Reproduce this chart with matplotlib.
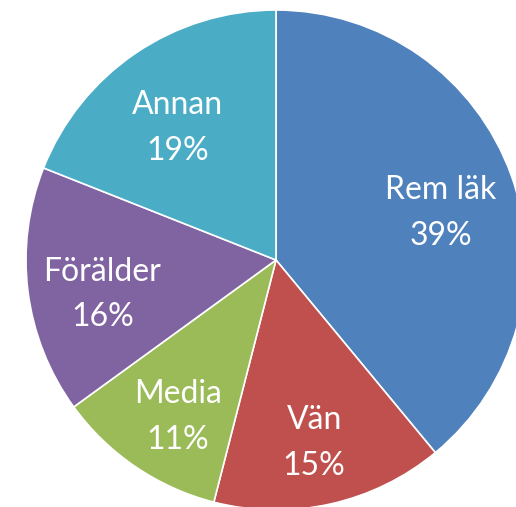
import matplotlib
matplotlib.use("Agg")
import matplotlib.pyplot as plt

# ---------------------------------------------------------------------------
# Data
# ---------------------------------------------------------------------------

CATEGORIES = ["Rem läk", "Vän", "Media", "Förälder", "Annan"]
SHARES     = [39, 15, 11, 16, 19]
COLORS     = ["#4F81BD", "#C0504D", "#9BBB59", "#8064A2", "#4BACC6"]

W, H = 516, 507
CX, CY, R = 276, 260, 250   # pie centre and radius in pixels (from top-left)

fig = plt.figure(figsize=(W / 100, H / 100), dpi=100)
ax = fig.add_axes([(CX - R) / W, (H - CY - R) / H, 2 * R / W, 2 * R / H])

labels = iter(CATEGORIES)


def fmt(pct):
    return f"{next(labels)}\n{pct:.0f}%"


wedges, texts, autotexts = ax.pie(
    SHARES,
    colors=COLORS,
    startangle=90,
    counterclock=False,
    radius=1.0,
    autopct=fmt,
    pctdistance=0.7,
    wedgeprops=dict(edgecolor="white", linewidth=1.2),
    textprops=dict(color="white", fontsize=23, family="Lato", linespacing=1.65),
)
# labels sit a little lower in the original
for t in autotexts:
    x, y = t.get_position()
    t.set_position((x, y - 0.05))

ax.set_xlim(-1, 1)
ax.set_ylim(-1, 1)
ax.set_aspect("equal")
ax.axis("off")

fig.savefig("out.png", dpi=100)
